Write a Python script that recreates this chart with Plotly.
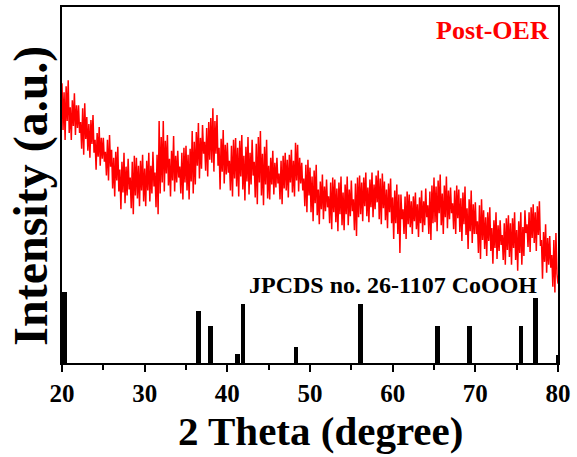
import plotly.graph_objects as go

# --- XRD pattern (Post-OER), one value every 0.125 degree from 20 to 80 ---
two_theta_start = 20
two_theta_step = 0.125
intensity = [
    282, 235, 273, 225, 279, 244, 285, 232,   # 20
    258, 225, 265, 239, 272, 230, 260, 237,   # 21
    260, 232, 243, 216, 257, 210, 262, 226,   # 22
    248, 214, 241, 207, 245, 221, 250, 212,   # 23
    225, 195, 232, 208, 238, 199, 227, 206,   # 24
    227, 203, 213, 189, 225, 184, 230, 198,   # 25
    215, 176, 207, 168, 213, 184, 218, 173,   # 26
    195, 155, 203, 172, 212, 161, 198, 169,   # 27
    206, 175, 187, 156, 203, 150, 209, 169,   # 28
    207, 166, 199, 158, 204, 174, 210, 163,   # 29
    196, 158, 204, 174, 212, 163, 199, 171,   # 30
    213, 178, 192, 157, 210, 150, 244, 171,   # 31
    228, 182, 244, 173, 224, 191, 230, 179,   # 32
    206, 168, 214, 184, 229, 173, 209, 182,   # 33
    214, 187, 198, 171, 212, 165, 217, 182,   # 34
    219, 174, 210, 165, 216, 183, 234, 171,   # 35
    223, 180, 233, 199, 242, 186, 227, 196,   # 36
    240, 211, 223, 194, 237, 188, 243, 205,   # 37
    247, 202, 257, 193, 244, 211, 250, 199,   # 38
    217, 175, 226, 193, 235, 181, 220, 190,   # 39
    222, 192, 204, 174, 219, 168, 225, 186,   # 40
    227, 178, 217, 168, 224, 188, 230, 175,   # 41
    209, 164, 218, 183, 228, 170, 212, 180,   # 42
    225, 189, 203, 167, 221, 160, 228, 182,   # 43
    234, 169, 211, 159, 218, 180, 225, 166,   # 44
    199, 165, 207, 180, 214, 170, 202, 177,   # 45
    207, 181, 191, 165, 204, 160, 209, 176,   # 46
    212, 174, 205, 167, 210, 182, 215, 172,   # 47
    204, 168, 222, 184, 220, 173, 207, 181,   # 48
    202, 174, 186, 158, 200, 152, 205, 169,   # 49
    197, 152, 188, 143, 194, 161, 200, 149,   # 50
    175, 140, 183, 155, 190, 145, 178, 153,   # 51
    185, 157, 168, 141, 182, 135, 187, 152,   # 52
    185, 142, 176, 133, 182, 150, 188, 139,   # 53
    172, 134, 180, 150, 188, 139, 175, 148,   # 54
    184, 153, 165, 134, 181, 128, 187, 147,   # 55
    189, 150, 182, 143, 187, 158, 192, 148,   # 56
    177, 142, 185, 157, 192, 147, 180, 155,   # 57
    189, 162, 194, 145, 186, 140, 191, 156,   # 58
    183, 144, 175, 136, 181, 152, 186, 141,   # 59
    167, 125, 174, 141, 180, 130, 170, 111,   # 60
    170, 145, 155, 130, 168, 125, 173, 140,   # 61
    170, 137, 163, 130, 168, 143, 172, 135,   # 62
    160, 127, 167, 141, 174, 132, 163, 139,   # 63
    176, 147, 159, 130, 173, 124, 179, 141,   # 64
    187, 142, 178, 133, 184, 151, 190, 139,   # 65
    171, 130, 179, 147, 188, 136, 174, 145,   # 66
    177, 151, 161, 135, 174, 130, 179, 146,   # 67
    175, 132, 166, 123, 172, 140, 178, 129,   # 68
    156, 115, 165, 133, 174, 121, 160, 130,   # 69
    162, 130, 143, 111, 159, 105, 165, 124,   # 70
    154, 115, 147, 108, 152, 123, 157, 113,   # 71
    136, 100, 144, 116, 152, 105, 139, 113,   # 72
    144, 119, 129, 104, 141, 99, 146, 114,    # 73
    149, 107, 141, 99, 146, 116, 152, 104,    # 74
    134, 93, 143, 111, 152, 99, 137, 108,     # 75
    154, 131, 140, 117, 152, 112, 157, 126,   # 76
    160, 121, 152, 113, 158, 129, 163, 118,   # 77
    124, 85, 132, 102, 140, 91, 126, 99,      # 78
    128, 96, 109, 77, 124, 71, 131, 90,       # 79
    80,                                       # 80
]

# --- reference pattern JPCDS no. 26-1107 CoOOH ---
ref_positions = [20.3, 36.5, 37.95, 41.2, 41.9, 48.3, 56.1, 65.4, 69.3, 75.5, 77.3, 80.0]
ref_heights = [72, 52, 37, 9, 59, 16, 59, 37, 37, 37, 66, 8]

font_family = "Liberation Serif"

fig = go.Figure()

fig.add_trace(go.Scatter(
    x0=two_theta_start, dx=two_theta_step, y=intensity,
    mode="lines", line=dict(color="#ff0000", width=1.5),
    showlegend=False,
))

fig.add_trace(go.Bar(
    x=ref_positions, y=ref_heights, width=0.55,
    marker=dict(color="black", line=dict(width=0)),
    showlegend=False,
))

# labels inside the plot
fig.add_annotation(
    x=0.985, y=0.935, xref="paper", yref="paper", xanchor="right", yanchor="middle",
    text="<b>Post-OER</b>", showarrow=False,
    font=dict(family=font_family, size=26, color="#ff0000"),
)
fig.add_annotation(
    x=0.962, y=0.22, xref="paper", yref="paper", xanchor="right", yanchor="middle",
    text="<b>JPCDS no. 26-1107 CoOOH</b>", showarrow=False,
    font=dict(family=font_family, size=24, color="black"),
)

# axis titles (placed as annotations to match the original offsets)
fig.add_annotation(
    x=0.522, y=-0.19, xref="paper", yref="paper", xanchor="center", yanchor="middle",
    text="<b>2 Theta (degree)</b>", showarrow=False,
    font=dict(family=font_family, size=41, color="black"),
)
fig.add_annotation(
    x=-0.0625, y=0.47, xref="paper", yref="paper", xanchor="center", yanchor="middle",
    text="<b>Intensity (a.u.)</b>", showarrow=False, textangle=-90,
    font=dict(family=font_family, size=48, color="black"),
)

fig.update_xaxes(
    range=[20, 80], dtick=10, tick0=20,
    showline=True, linecolor="black", linewidth=2, mirror=True,
    ticks="outside", ticklen=7, tickwidth=2, tickcolor="black",
    minor=dict(dtick=5, ticks="outside", ticklen=5, tickwidth=2, tickcolor="black"),
    showgrid=False, zeroline=False,
    tickfont=dict(family=font_family, size=25, color="black", weight="bold"),
)
fig.update_yaxes(
    range=[0, 359], showticklabels=False, ticks="",
    showline=True, linecolor="black", linewidth=2, mirror=True,
    showgrid=False, zeroline=False,
)

fig.update_layout(
    width=577, height=457,
    margin=dict(l=62, r=19, t=5, b=94),
    paper_bgcolor="white", plot_bgcolor="white",
    bargap=0,
)

fig.write_html("out.html", config={"displayModeBar": False},
               post_script="document.body.style.margin='0px';")
